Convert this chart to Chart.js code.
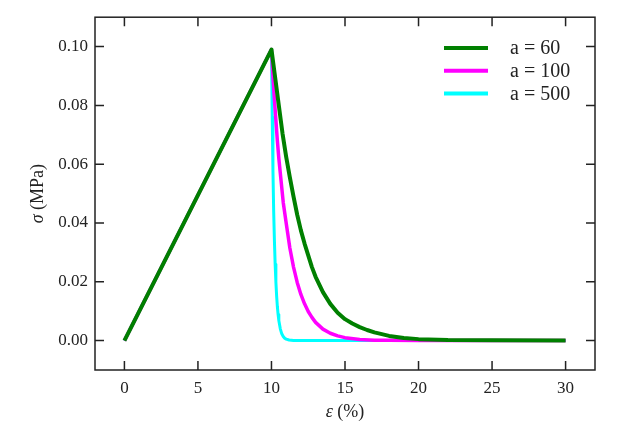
<!DOCTYPE html>
<html>
<head>
<meta charset="UTF-8">
<title>sigma-epsilon</title>
<script src="https://cdn.jsdelivr.net/npm/chart.js"></script>
<style>
  html, body { margin: 0; padding: 0; background: #fff; }
  #wrap { width: 621px; height: 433px; }
</style>
</head>
<body>
<div id="wrap"><canvas id="c"></canvas></div>
<script>
// strain (%) and stress (MPa)
const eps60  = [0, 10, 10.25, 10.5, 10.75, 11, 11.25, 11.5, 11.75, 12, 12.25, 12.5, 12.75, 13, 13.5, 14, 14.5, 15, 15.5, 16, 16.5, 17, 18, 19, 20, 22, 25, 30];
const sig60  = [0, 0.099, 0.0895, 0.080, 0.0705, 0.0625, 0.0555, 0.049, 0.0428, 0.0375, 0.033, 0.029, 0.025, 0.0217, 0.0165, 0.0125, 0.0095, 0.0073, 0.0058, 0.0046, 0.0036, 0.0028, 0.0016, 0.0009, 0.0005, 0.0002, 0.0001, 0];

const eps100 = [0, 10, 10.1, 10.2, 10.3, 10.4, 10.5, 10.65, 10.8, 11, 11.25, 11.5, 11.75, 12, 12.25, 12.5, 12.75, 13, 13.5, 14, 14.5, 15, 16, 17, 18, 20, 30];
const sig100 = [0, 0.099, 0.090, 0.082, 0.075, 0.068, 0.062, 0.0545, 0.047, 0.040, 0.0315, 0.025, 0.0198, 0.0157, 0.0125, 0.0099, 0.0079, 0.0062, 0.0039, 0.0025, 0.0016, 0.001, 0.0004, 0.00015, 0.0001, 0, 0];

const eps500 = [0, 10, 10.05, 10.1, 10.15, 10.2, 10.25, 10.3, 10.35, 10.4, 10.45, 10.5, 10.6, 10.7, 10.8, 10.9, 11, 11.2, 11.5, 30];
const sig500 = [0, 0.099, 0.076, 0.058, 0.044, 0.034, 0.026, 0.020, 0.0152, 0.0116, 0.0089, 0.0068, 0.0040, 0.0023, 0.0014, 0.0008, 0.0005, 0.0002, 0, 0];

const seriesLabels = ['a = 60', 'a = 100', 'a = 500'];
const seriesColors = ['#008000', '#ff00ff', '#00ffff'];
const seriesWidths = [4, 3.5, 3];

const xTicks = [0, 5, 10, 15, 20, 25, 30];
const yTicks = [0, 0.02, 0.04, 0.06, 0.08, 0.10];

const FONT = '"Liberation Serif", "Times New Roman", serif';

const pts = (xs, ys) => xs.map((x, i) => ({ x, y: ys[i] }));
const allData = [pts(eps60, sig60), pts(eps100, sig100), pts(eps500, sig500)];

// box round the plot, inward ticks on all sides, axis titles, legend
const framePlugin = {
  id: 'frame',
  afterDatasetsDraw(chart) {
    const { ctx, chartArea: a, scales } = chart;
    const L = 9;
    ctx.save();
    ctx.strokeStyle = '#222';
    ctx.lineWidth = 1.5;
    ctx.strokeRect(a.left, a.top, a.right - a.left, a.bottom - a.top);
    ctx.beginPath();
    xTicks.forEach(v => {
      const px = scales.x.getPixelForValue(v);
      ctx.moveTo(px, a.bottom); ctx.lineTo(px, a.bottom - L);
      ctx.moveTo(px, a.top);    ctx.lineTo(px, a.top + L);
    });
    yTicks.forEach(v => {
      const py = scales.y.getPixelForValue(v);
      ctx.moveTo(a.left, py);  ctx.lineTo(a.left + L, py);
      ctx.moveTo(a.right, py); ctx.lineTo(a.right - L, py);
    });
    ctx.stroke();

    // axis titles
    ctx.fillStyle = '#222';
    ctx.textBaseline = 'middle';
    ctx.font = 'italic 18px ' + FONT;
    const w1 = ctx.measureText('ε').width;
    ctx.font = '18px ' + FONT;
    const w2 = ctx.measureText(' (%)').width;
    const x0 = (a.left + a.right) / 2 - (w1 + w2) / 2;
    ctx.textAlign = 'left';
    ctx.font = 'italic 18px ' + FONT;
    ctx.fillText('ε', x0, 412);
    ctx.font = '18px ' + FONT;
    ctx.fillText(' (%)', x0 + w1, 412);

    ctx.save();
    ctx.translate(38, (a.top + a.bottom) / 2);
    ctx.rotate(-Math.PI / 2);
    ctx.font = 'italic 18px ' + FONT;
    const s1 = ctx.measureText('σ').width;
    ctx.font = '18px ' + FONT;
    const s2 = ctx.measureText(' (MPa)').width;
    const y0 = -(s1 + s2) / 2;
    ctx.font = 'italic 18px ' + FONT;
    ctx.fillText('σ', y0, 0);
    ctx.font = '18px ' + FONT;
    ctx.fillText(' (MPa)', y0 + s1, 0);
    ctx.restore();

    // legend
    ctx.font = '20px ' + FONT;
    ctx.textAlign = 'left';
    seriesLabels.forEach((lbl, i) => {
      const ly = 48 + i * 22.7;
      ctx.strokeStyle = seriesColors[i];
      ctx.lineWidth = 4;
      ctx.beginPath();
      ctx.moveTo(444, ly); ctx.lineTo(488, ly);
      ctx.stroke();
      ctx.fillStyle = '#222';
      ctx.fillText(lbl, 510, ly + 1);
    });
    ctx.restore();
  }
};

new Chart(document.getElementById('c'), {
  type: 'line',
  data: {
    datasets: allData.map((d, i) => ({
      label: seriesLabels[i],
      data: d,
      borderColor: seriesColors[i],
      backgroundColor: seriesColors[i],
      borderWidth: seriesWidths[i],
      borderJoinStyle: 'round',
      pointRadius: 0,
      tension: 0,
      fill: false
    }))
  },
  options: {
    responsive: true,
    maintainAspectRatio: false,
    animation: false,
    layout: { padding: { top: 14, right: 26, left: 0, bottom: 0 } },
    plugins: { legend: { display: false }, tooltip: { enabled: false } },
    scales: {
      x: {
        type: 'linear',
        min: -2, max: 32,
        afterBuildTicks: s => { s.ticks = xTicks.map(v => ({ value: v })); },
        afterFit: s => { s.height = 63; },
        grid: { drawOnChartArea: false, drawTicks: false },
        border: { display: false },
        ticks: { color: '#222', font: { family: FONT, size: 17 }, padding: 8, maxRotation: 0,
                 callback: v => String(v) }
      },
      y: {
        type: 'linear',
        min: -0.01, max: 0.11,
        afterBuildTicks: s => { s.ticks = yTicks.map(v => ({ value: v })); },
        afterFit: s => { s.width = 95; },
        grid: { drawOnChartArea: false, drawTicks: false },
        border: { display: false },
        ticks: { color: '#222', font: { family: FONT, size: 17 }, padding: 7,
                 callback: v => v.toFixed(2) }
      }
    }
  },
  plugins: [framePlugin]
});
</script>
</body>
</html>
